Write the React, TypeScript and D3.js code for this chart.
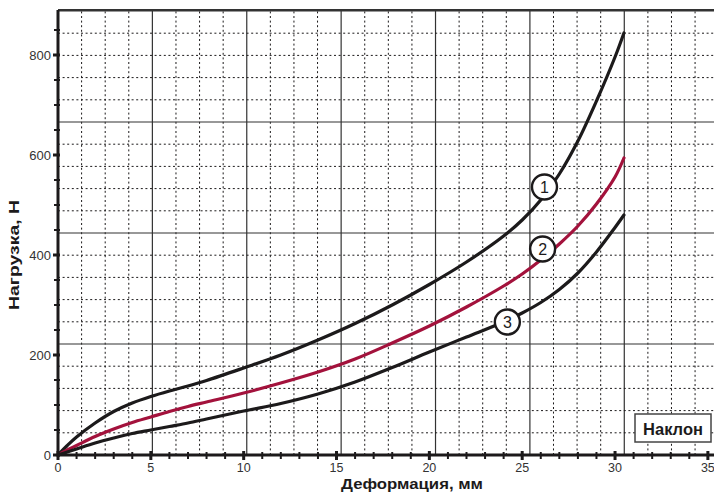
import React from 'react';
import * as d3 from 'd3';

// ---- data ----
const curve1X = [0, 0.5, 1, 2, 3, 4, 5, 6, 7, 8, 10, 12, 14, 16, 18, 20, 22, 24, 25, 26, 27, 28, 29, 30, 30.48];
const curve1Y = [0, 19, 36, 64, 87, 104, 117, 128, 138, 149, 174, 200, 230, 263, 300, 341, 386, 438, 470, 510, 562, 628, 708, 796, 844];
const curve2X = [0, 0.5, 1, 2, 3, 4, 5, 6, 7, 8, 10, 12, 14, 16, 18, 20, 22, 24, 25, 26, 27, 28, 29, 30, 30.48];
const curve2Y = [0, 10, 19, 37, 52, 65, 76, 87, 97, 106, 124, 144, 166, 192, 224, 258, 296, 338, 362, 390, 422, 458, 502, 556, 594];
const curve3X = [0, 0.5, 1, 2, 3, 4, 5, 6, 7, 8, 10, 12, 14, 16, 18, 20, 22, 24, 25, 26, 27, 28, 29, 30, 30.48];
const curve3Y = [0, 6, 12, 24, 34, 43, 50, 57, 64, 72, 88, 103, 122, 146, 175, 206, 236, 266, 284, 305, 331, 364, 406, 455, 480];
const seriesColors = ['#1c1a1b', '#a3123c', '#1c1a1b'];
const seriesLabels = ['1', '2', '3'];
const labelX = [26.2, 26.1, 24.2];
const labelY = [536, 412, 266];

const xMajorTicks = [0, 5, 10, 15, 20, 25, 30, 35];
const yMajorTicks = [0, 200, 400, 600, 800];
const xTitle = 'Деформация, мм';
const yTitle = 'Нагрузка, Н';
const legendText = 'Наклон';

// grid of the underlying paper (data units)
const gridStepX = 5.083 / 4;
const gridStepY = 222 / 5;

const W = 714;
const H = 493;
const M = { left: 58, top: 10, right: 0, bottom: 38 };
const FONT = '"Liberation Sans", Arial, Helvetica, sans-serif';

export default function App() {
  const x = d3.scaleLinear().domain([0, 35.33]).range([M.left, W - M.right]);
  const y = d3.scaleLinear().domain([0, 890]).range([H - M.bottom, M.top]);
  const [x0, x1] = x.range();
  const [y0, y1] = y.range();

  const xGrid = d3.range(1, Math.floor(35.33 / gridStepX) + 1).map((i) => ({ v: i * gridStepX, major: i % 4 === 0 }));
  const yGrid = d3.range(1, Math.floor(890 / gridStepY) + 1).map((i) => ({ v: i * gridStepY, major: i % 5 === 0 }));

  const xMinor = d3.range(0, 36, 1);
  const yMinor = d3.range(0, 851, 50);

  const line = d3
    .line<[number, number]>()
    .x((d) => x(d[0]))
    .y((d) => y(d[1]))
    .curve(d3.curveCatmullRom.alpha(0.5));

  const series = [
    d3.zip(curve1X, curve1Y) as [number, number][],
    d3.zip(curve2X, curve2Y) as [number, number][],
    d3.zip(curve3X, curve3Y) as [number, number][],
  ];

  return (
    <svg width={W} height={H} style={{ position: 'absolute', left: 0, top: 0, background: '#fff' }} fontFamily={FONT}>
      <rect x={0} y={0} width={W} height={H} fill="#fff" />
      {/* grid */}
      {xGrid.map((g, i) => (
        <line
          key={'gx' + i}
          x1={x(g.v)}
          x2={x(g.v)}
          y1={y0}
          y2={y1}
          stroke={g.major ? '#333' : '#1c1a1b'}
          strokeWidth={g.major ? 1.2 : 1}
          strokeDasharray={g.major ? undefined : '2,2.6'}
        />
      ))}
      {yGrid.map((g, i) => (
        <line
          key={'gy' + i}
          x1={x0}
          x2={x1}
          y1={y(g.v)}
          y2={y(g.v)}
          stroke={g.major ? '#333' : '#1c1a1b'}
          strokeWidth={g.major ? 1.2 : 1}
          strokeDasharray={g.major ? undefined : '2,2.6'}
        />
      ))}
      {/* top border */}
      <line x1={x0} x2={x1} y1={y1} y2={y1} stroke="#333" strokeWidth={2} />

      {/* curves */}
      {series.map((s, i) => (
        <path key={'s' + i} d={line(s) || ''} fill="none" stroke={seriesColors[i]} strokeWidth={3.2} strokeLinecap="round" />
      ))}

      {/* curve labels */}
      {seriesLabels.map((t, i) => (
        <g key={'l' + i} transform={`translate(${x(labelX[i])},${y(labelY[i])})`}>
          <circle r={12.5} fill="#fff" stroke="#1c1a1b" strokeWidth={2.4} />
          <text textAnchor="middle" dy="0.36em" fontSize={16} fill="#1c1a1b">
            {t}
          </text>
        </g>
      ))}

      {/* axes */}
      <line x1={x0} x2={x0} y1={y1} y2={y0 + 1.5} stroke="#1c1a1b" strokeWidth={3} />
      <line x1={x0} x2={x1} y1={y0} y2={y0} stroke="#1c1a1b" strokeWidth={3} />
      {yMinor.map((v) => {
        const major = v % 200 === 0;
        return (
          <line key={'ty' + v} x1={x0 - (major ? 5 : 4)} x2={x0 + 2} y1={y(v)} y2={y(v)} stroke="#1c1a1b" strokeWidth={major ? 3 : 2} />
        );
      })}
      {xMinor.map((v) => {
        const major = v % 5 === 0;
        return (
          <line key={'tx' + v} x1={x(v)} x2={x(v)} y1={y0 - (major ? 4 : 3)} y2={y0 + (major ? 5 : 4)} stroke="#1c1a1b" strokeWidth={major ? 3 : 2} />
        );
      })}
      {yMajorTicks.map((v) => (
        <text key={'ly' + v} x={x0 - 7} y={y(v)} dy="0.35em" textAnchor="end" fontSize={13} fill="#333">
          {v}
        </text>
      ))}
      {xMajorTicks.map((v) => (
        <text key={'lx' + v} x={x(v)} y={y0 + 17} textAnchor="middle" fontSize={12.5} fill="#333">
          {v}
        </text>
      ))}

      {/* titles */}
      <text x={341} y={489} textLength={142} lengthAdjust="spacingAndGlyphs" fontSize={14} fontWeight="bold" fill="#1c1a1b">
        {xTitle}
      </text>
      <text
        transform={`translate(19,${310}) rotate(-90)`}
        textLength={110}
        lengthAdjust="spacingAndGlyphs"
        fontSize={15}
        fontWeight="bold"
        fill="#1c1a1b"
      >
        {yTitle}
      </text>

      {/* legend box */}
      <rect x={635} y={414} width={76} height={28} fill="#fff" stroke="#444" strokeWidth={1.5} />
      <text x={673} y={429} dy="0.36em" textAnchor="middle" fontSize={16.5} fontWeight="bold" fill="#1c1a1b">
        {legendText}
      </text>
    </svg>
  );
}
